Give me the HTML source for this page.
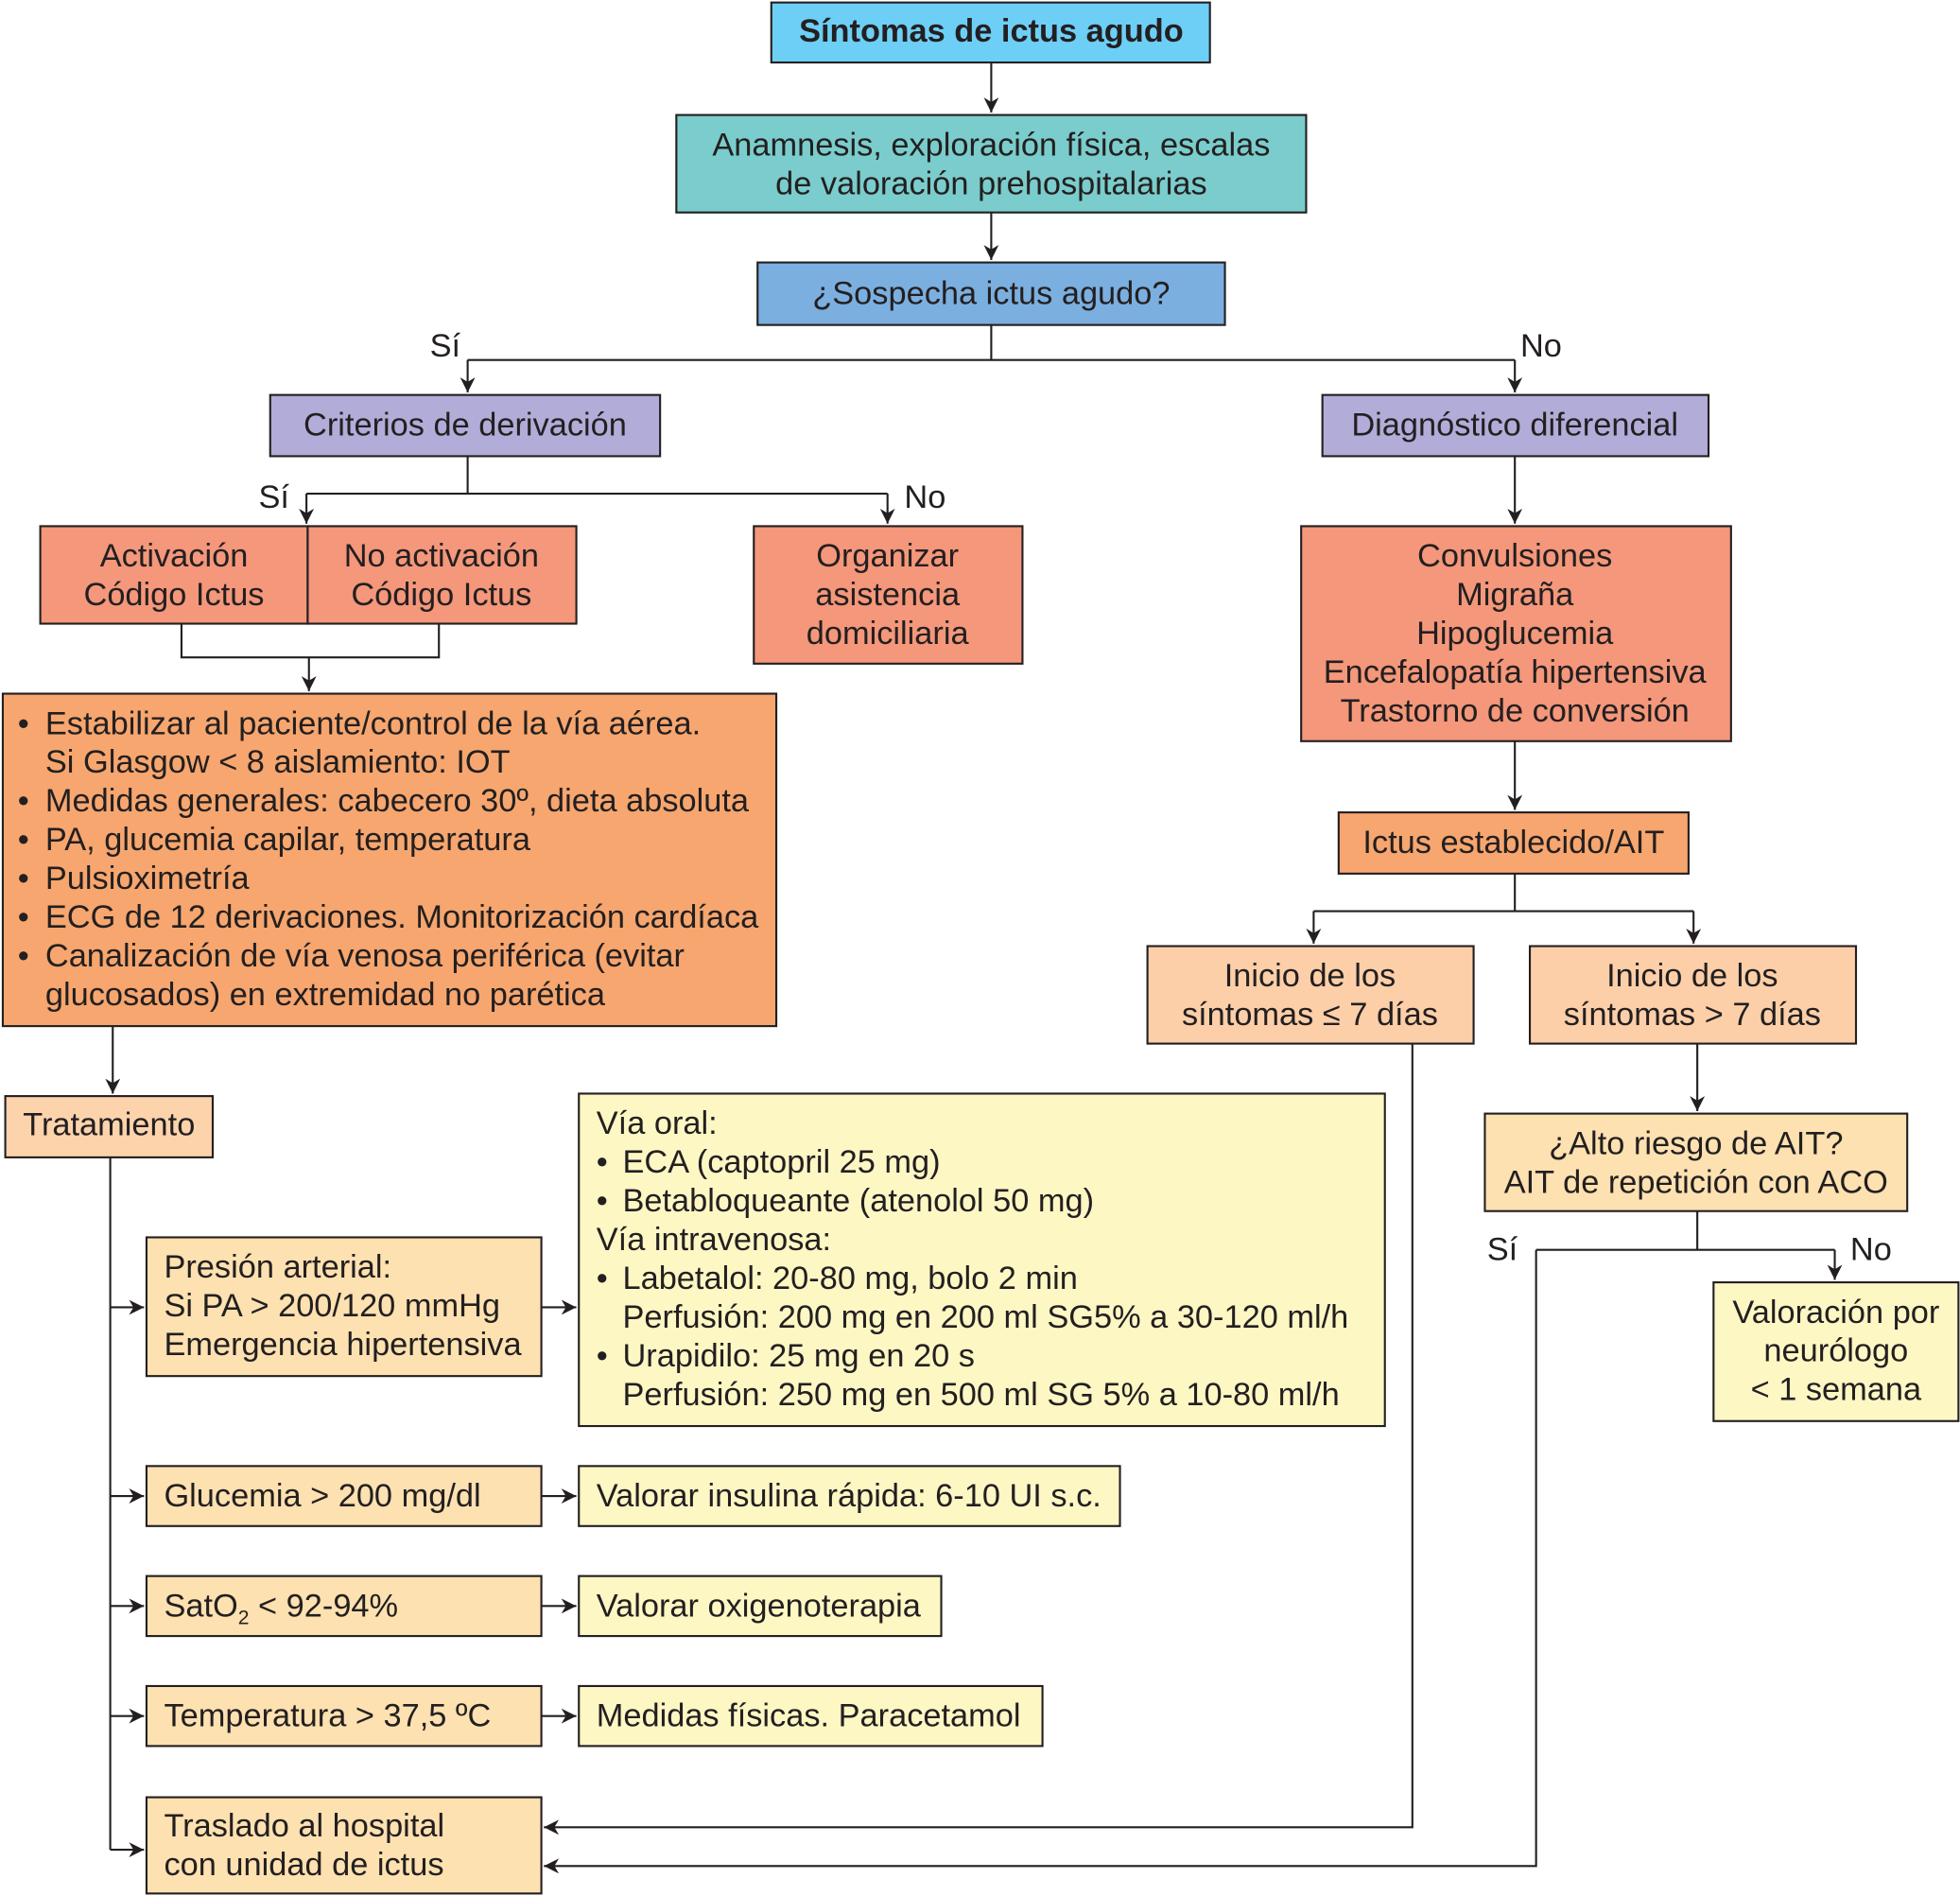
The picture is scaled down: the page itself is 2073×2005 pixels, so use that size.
<!DOCTYPE html>
<html><head><meta charset="utf-8"><style>
html,body{margin:0;padding:0;background:#fff}
svg{display:block}
text{font-family:"Liberation Sans",Arial,sans-serif;font-size:26px;fill:#231f20}
.c{text-anchor:middle}
</style></head><body>
<svg width="2073" height="2005" viewBox="0 0 1568 1517" xmlns="http://www.w3.org/2000/svg">
<defs><marker id="a" viewBox="0 0 10 10" refX="10" refY="5" markerWidth="12" markerHeight="12" markerUnits="userSpaceOnUse" orient="auto"><path d="M0,0 L10,5 L0,10 L3,5 z" fill="#231f20"/></marker></defs>
<g stroke="#231f20" stroke-width="1.6">
<rect x="617" y="2" width="351" height="48" fill="#6dcff6"/>
<rect x="541" y="92" width="504" height="78" fill="#7acdcc"/>
<rect x="606" y="210" width="374" height="50" fill="#7bafdf"/>
<rect x="216" y="316" width="312" height="49" fill="#b2acd8"/>
<rect x="1058" y="316" width="309" height="49" fill="#b2acd8"/>
<rect x="32" y="421" width="214" height="78" fill="#f4977a"/>
<rect x="246" y="421" width="215" height="78" fill="#f4977a"/>
<rect x="603" y="421" width="215" height="110" fill="#f4977a"/>
<rect x="1041" y="421" width="344" height="172" fill="#f4977a"/>
<rect x="2" y="555" width="619" height="266" fill="#f6a66e"/>
<rect x="1071" y="650" width="280" height="49" fill="#f6a66e"/>
<rect x="918" y="757" width="261" height="78" fill="#fdcfa8"/>
<rect x="1224" y="757" width="261" height="78" fill="#fdcfa8"/>
<rect x="4" y="877" width="166" height="49" fill="#fdd3ac"/>
<rect x="1188" y="891" width="338" height="78" fill="#fde1b0"/>
<rect x="1371" y="1026" width="196" height="111" fill="#fdf7c4"/>
<rect x="117" y="990" width="316" height="111" fill="#fde1b0"/>
<rect x="463" y="875" width="645" height="266" fill="#fdf7c4"/>
<rect x="117" y="1173" width="316" height="48" fill="#fde1b0"/>
<rect x="463" y="1173" width="433" height="48" fill="#fdf7c4"/>
<rect x="117" y="1261" width="316" height="48" fill="#fde1b0"/>
<rect x="463" y="1261" width="290" height="48" fill="#fdf7c4"/>
<rect x="117" y="1349" width="316" height="48" fill="#fde1b0"/>
<rect x="463" y="1349" width="371" height="48" fill="#fdf7c4"/>
<rect x="117" y="1438" width="316" height="77" fill="#fde1b0"/>
</g>
<g stroke="#231f20" stroke-width="1.6" fill="none">
<path d="M793,50 V90" marker-end="url(#a)"/>
<path d="M793,170 V208" marker-end="url(#a)"/>
<path d="M793,260 V288 M374,288 H1212"/>
<path d="M374,288 V314" marker-end="url(#a)"/>
<path d="M1212,288 V314" marker-end="url(#a)"/>
<path d="M374,365 V395 M245,395 H710"/>
<path d="M245,395 V419" marker-end="url(#a)"/>
<path d="M710,395 V419" marker-end="url(#a)"/>
<path d="M1212,365 V419" marker-end="url(#a)"/>
<path d="M145,499 V526 H351 V499"/>
<path d="M247,526 V553" marker-end="url(#a)"/>
<path d="M90,821 V875" marker-end="url(#a)"/>
<path d="M88,926 V1480"/>
<path d="M88,1046 H115" marker-end="url(#a)"/>
<path d="M88,1197 H115" marker-end="url(#a)"/>
<path d="M88,1285 H115" marker-end="url(#a)"/>
<path d="M88,1373 H115" marker-end="url(#a)"/>
<path d="M88,1480 H115" marker-end="url(#a)"/>
<path d="M433,1046 H461" marker-end="url(#a)"/>
<path d="M433,1197 H461" marker-end="url(#a)"/>
<path d="M433,1285 H461" marker-end="url(#a)"/>
<path d="M433,1373 H461" marker-end="url(#a)"/>
<path d="M1212,593 V648" marker-end="url(#a)"/>
<path d="M1212,699 V729 M1051,729 H1355"/>
<path d="M1051,729 V755" marker-end="url(#a)"/>
<path d="M1355,729 V755" marker-end="url(#a)"/>
<path d="M1130,835 V1462 H435" marker-end="url(#a)"/>
<path d="M1358,835 V889" marker-end="url(#a)"/>
<path d="M1358,969 V1000 M1229,1000 H1468"/>
<path d="M1468,1000 V1024" marker-end="url(#a)"/>
<path d="M1229,1000 V1493 H435" marker-end="url(#a)"/>
</g>
<g dominant-baseline="central">
<text class="c" x="793" y="25" style="font-weight:bold">Síntomas de ictus agudo</text>
<text class="c" x="793" y="116">Anamnesis, exploración física, escalas</text>
<text class="c" x="793" y="147">de valoración prehospitalarias</text>
<text class="c" x="793" y="235">¿Sospecha ictus agudo?</text>
<text class="c" x="356" y="277">Sí</text>
<text class="c" x="1233" y="277">No</text>
<text class="c" x="372" y="340">Criterios de derivación</text>
<text class="c" x="1212" y="340">Diagnóstico diferencial</text>
<text class="c" x="219" y="398">Sí</text>
<text class="c" x="740" y="398">No</text>
<text class="c" x="139" y="445">Activación</text>
<text class="c" x="139" y="476">Código Ictus</text>
<text class="c" x="353" y="445">No activación</text>
<text class="c" x="353" y="476">Código Ictus</text>
<text class="c" x="710" y="445">Organizar</text>
<text class="c" x="710" y="476">asistencia</text>
<text class="c" x="710" y="507">domiciliaria</text>
<text class="c" x="1212" y="445">Convulsiones</text>
<text class="c" x="1212" y="476">Migraña</text>
<text class="c" x="1212" y="507">Hipoglucemia</text>
<text class="c" x="1212" y="538">Encefalopatía hipertensiva</text>
<text class="c" x="1212" y="569">Trastorno de conversión</text>
<text x="14" y="579">•</text><text x="36" y="579">Estabilizar al paciente/control de la vía aérea.</text>
<text x="36" y="610">Si Glasgow &lt; 8 aislamiento: IOT</text>
<text x="14" y="641">•</text><text x="36" y="641">Medidas generales: cabecero 30º, dieta absoluta</text>
<text x="14" y="672">•</text><text x="36" y="672">PA, glucemia capilar, temperatura</text>
<text x="14" y="703">•</text><text x="36" y="703">Pulsioximetría</text>
<text x="14" y="734">•</text><text x="36" y="734">ECG de 12 derivaciones. Monitorización cardíaca</text>
<text x="14" y="765">•</text><text x="36" y="765">Canalización de vía venosa periférica (evitar</text>
<text x="36" y="796">glucosados) en extremidad no parética</text>
<text class="c" x="1211" y="674">Ictus establecido/AIT</text>
<text class="c" x="1048" y="781">Inicio de los</text>
<text class="c" x="1048" y="812">síntomas ≤ 7 días</text>
<text class="c" x="1354" y="781">Inicio de los</text>
<text class="c" x="1354" y="812">síntomas &gt; 7 días</text>
<text class="c" x="87" y="900">Tratamiento</text>
<text class="c" x="1357" y="915">¿Alto riesgo de AIT?</text>
<text class="c" x="1357" y="946">AIT de repetición con ACO</text>
<text class="c" x="1202" y="1000">Sí</text>
<text class="c" x="1497" y="1000">No</text>
<text class="c" x="1469" y="1050">Valoración por</text>
<text class="c" x="1469" y="1081">neurólogo</text>
<text class="c" x="1469" y="1112">&lt; 1 semana</text>
<text x="131" y="1014">Presión arterial:</text>
<text x="131" y="1045">Si PA &gt; 200/120 mmHg</text>
<text x="131" y="1076">Emergencia hipertensiva</text>
<text x="477" y="899">Vía oral:</text>
<text x="477" y="930">•</text><text x="498" y="930">ECA (captopril 25 mg)</text>
<text x="477" y="961">•</text><text x="498" y="961">Betabloqueante (atenolol 50 mg)</text>
<text x="477" y="992">Vía intravenosa:</text>
<text x="477" y="1023">•</text><text x="498" y="1023">Labetalol: 20-80 mg, bolo 2 min</text>
<text x="498" y="1054">Perfusión: 200 mg en 200 ml SG5% a 30-120 ml/h</text>
<text x="477" y="1085">•</text><text x="498" y="1085">Urapidilo: 25 mg en 20 s</text>
<text x="498" y="1116">Perfusión: 250 mg en 500 ml SG 5% a 10-80 ml/h</text>
<text x="131" y="1197">Glucemia &gt; 200 mg/dl</text>
<text x="477" y="1197">Valorar insulina rápida: 6-10 UI s.c.</text>
<text x="131" y="1285">SatO<tspan font-size="16" dy="9">2</tspan><tspan dy="-9"> &lt; 92-94%</tspan></text>
<text x="477" y="1285">Valorar oxigenoterapia</text>
<text x="131" y="1373">Temperatura &gt; 37,5 ºC</text>
<text x="477" y="1373">Medidas físicas. Paracetamol</text>
<text x="131" y="1461">Traslado al hospital</text>
<text x="131" y="1492">con unidad de ictus</text>
</g>
</svg>
</body></html>
